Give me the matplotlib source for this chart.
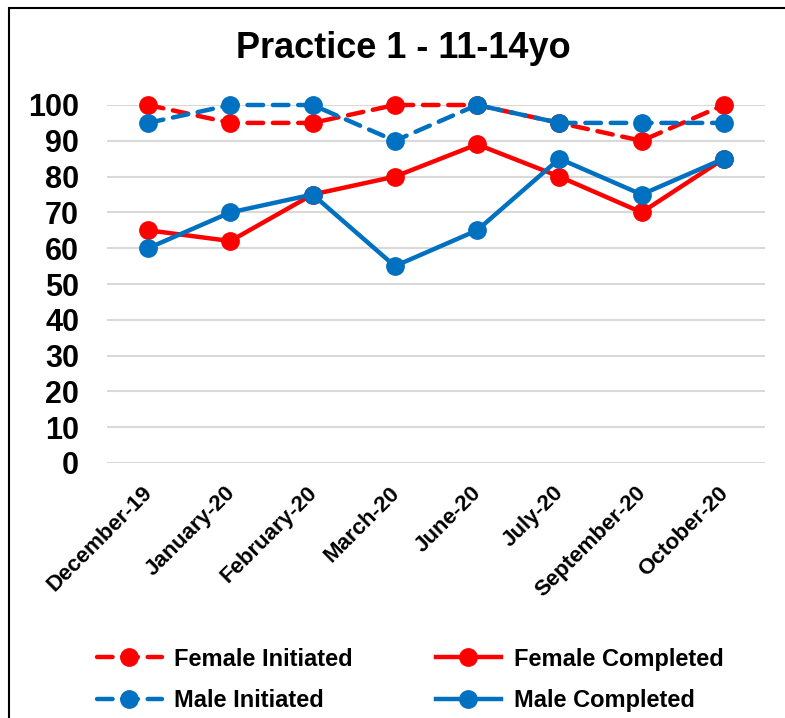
import matplotlib
matplotlib.use("Agg")
import matplotlib.pyplot as plt
from matplotlib.patches import Rectangle
from matplotlib.transforms import ScaledTranslation

plt.rcParams['font.family'] = ['Liberation Sans', 'DejaVu Sans']

months = ["December-19", "January-20", "February-20", "March-20",
          "June-20", "July-20", "September-20", "October-20"]
female_initiated = [100, 95, 95, 100, 100, 95, 90, 100]
female_completed = [65, 62, 75, 80, 89, 80, 70, 85]
male_initiated = [95, 100, 100, 90, 100, 95, 95, 95]
male_completed = [60, 70, 75, 55, 65, 85, 75, 85]
yticks = [0, 10, 20, 30, 40, 50, 60, 70, 80, 90, 100]

RED = "#FF0000"
BLUE = "#0070C0"

W, H = 785, 718
fig = plt.figure(figsize=(W / 100, H / 100), dpi=100)
ax = fig.add_axes([107 / W, 1 - 463 / H, (765 - 107) / W, (463 - 105) / H])

x = list(range(len(months)))
style = dict(lw=3.2, marker="o", ms=12.5, clip_on=False, dash_capstyle="round")
l1, = ax.plot(x, female_initiated, color=RED, ls=(0, (3.5, 2.2)), label="Female Initiated", **style)
l2, = ax.plot(x, female_completed, color=RED, ls="-", label="Female Completed", **style)
l3, = ax.plot(x, male_initiated, color=BLUE, ls=(0, (3.5, 2.2)), label="Male Initiated", **style)
l4, = ax.plot(x, male_completed, color=BLUE, ls="-", label="Male Completed", **style)

ax.set_xlim(-0.5, len(months) - 0.5)
ax.set_ylim(0, 100)
ax.set_yticks(yticks)
ax.set_yticklabels([str(v) for v in yticks], fontsize=22, fontweight="bold")
ax.set_xticks(x)
ax.set_xticklabels(months, rotation=45, ha="right", rotation_mode="anchor",
                   fontsize=16, fontweight="bold")
ax.tick_params(length=0, axis="both")
ax.tick_params(axis="y", pad=20)
ax.tick_params(axis="x", pad=14)
# nudge the rotated month labels a bit to the left
shift = ScaledTranslation(-6 / 100, 0, fig.dpi_scale_trans)
for lab in ax.get_xticklabels():
    lab.set_transform(lab.get_transform() + shift)
ax.grid(axis="y", color="#D9D9D9", lw=1.5)
ax.set_axisbelow(True)
for s in ax.spines.values():
    s.set_visible(False)

fig.text(403 / W, 1 - 48 / H, "Practice 1 - 11-14yo",
         ha="center", va="center", fontsize=26, fontweight="bold")

fig.legend([l1, l3, l2, l4],
           ["Female Initiated", "Male Initiated", "Female Completed", "Male Completed"],
           ncol=2, loc="center", bbox_to_anchor=(410 / W, 1 - 680 / H),
           frameon=False, prop=dict(size=17, weight="bold"),
           handlelength=2.75, columnspacing=3.5, labelspacing=0.8, handletextpad=0.55)

fig.patches.append(Rectangle((8.5 / W, -0.5), 2, 1.5 - 7.5 / H, transform=fig.transFigure,
                             fill=False, ec="black", lw=1.5))

fig.savefig("out.png", dpi=100)
